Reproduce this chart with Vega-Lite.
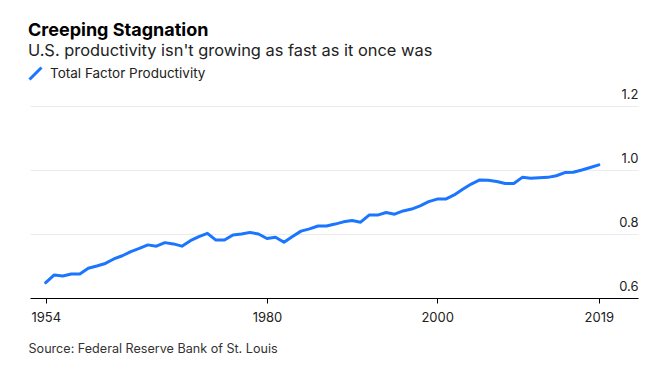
{
  "$schema": "https://vega.github.io/schema/vega-lite/v6.json",
  "width": 608,
  "height": 192,
  "autosize": "none",
  "padding": {"left": 30, "top": 106, "right": 24, "bottom": 69},
  "background": "white",
  "config": {"view": {"stroke": null}, "font": "Inter"},
  "title": {
    "text": "Creeping Stagnation",
    "subtitle": "U.S. productivity isn't growing as fast as it once was",
    "anchor": "start",
    "frame": "group",
    "dx": -2,
    "font": "Inter",
    "fontSize": 18,
    "fontWeight": "bold",
    "color": "#000000",
    "subtitleFont": "Inter",
    "subtitleFontSize": 16.4,
    "subtitleColor": "#222222",
    "subtitlePadding": 3,
    "offset": 7
  },
  "data": {
    "values": [
      {"year": 1954, "value": 0.648},
      {"year": 1955, "value": 0.672},
      {"year": 1956, "value": 0.669},
      {"year": 1957, "value": 0.675},
      {"year": 1958, "value": 0.675},
      {"year": 1959, "value": 0.693},
      {"year": 1960, "value": 0.700},
      {"year": 1961, "value": 0.708},
      {"year": 1962, "value": 0.722},
      {"year": 1963, "value": 0.732},
      {"year": 1964, "value": 0.745},
      {"year": 1965, "value": 0.755},
      {"year": 1966, "value": 0.766},
      {"year": 1967, "value": 0.762},
      {"year": 1968, "value": 0.773},
      {"year": 1969, "value": 0.769},
      {"year": 1970, "value": 0.762},
      {"year": 1971, "value": 0.779},
      {"year": 1972, "value": 0.792},
      {"year": 1973, "value": 0.802},
      {"year": 1974, "value": 0.781},
      {"year": 1975, "value": 0.781},
      {"year": 1976, "value": 0.797},
      {"year": 1977, "value": 0.800},
      {"year": 1978, "value": 0.805},
      {"year": 1979, "value": 0.800},
      {"year": 1980, "value": 0.786},
      {"year": 1981, "value": 0.790},
      {"year": 1982, "value": 0.774},
      {"year": 1983, "value": 0.792},
      {"year": 1984, "value": 0.809},
      {"year": 1985, "value": 0.816},
      {"year": 1986, "value": 0.825},
      {"year": 1987, "value": 0.825},
      {"year": 1988, "value": 0.831},
      {"year": 1989, "value": 0.838},
      {"year": 1990, "value": 0.842},
      {"year": 1991, "value": 0.837},
      {"year": 1992, "value": 0.859},
      {"year": 1993, "value": 0.859},
      {"year": 1994, "value": 0.867},
      {"year": 1995, "value": 0.862},
      {"year": 1996, "value": 0.872},
      {"year": 1997, "value": 0.878},
      {"year": 1998, "value": 0.888},
      {"year": 1999, "value": 0.901},
      {"year": 2000, "value": 0.909},
      {"year": 2001, "value": 0.909},
      {"year": 2002, "value": 0.922},
      {"year": 2003, "value": 0.940},
      {"year": 2004, "value": 0.956},
      {"year": 2005, "value": 0.969},
      {"year": 2006, "value": 0.968},
      {"year": 2007, "value": 0.964},
      {"year": 2008, "value": 0.958},
      {"year": 2009, "value": 0.958},
      {"year": 2010, "value": 0.977},
      {"year": 2011, "value": 0.974},
      {"year": 2012, "value": 0.976},
      {"year": 2013, "value": 0.977},
      {"year": 2014, "value": 0.982},
      {"year": 2015, "value": 0.992},
      {"year": 2016, "value": 0.993},
      {"year": 2017, "value": 1.000},
      {"year": 2018, "value": 1.008},
      {"year": 2019, "value": 1.016}
    ]
  },
  "mark": {"type": "line", "strokeWidth": 3, "strokeJoin": "round", "strokeCap": "round"},
  "encoding": {
    "x": {
      "field": "year",
      "type": "quantitative",
      "scale": {"domain": [1952.15, 2023.6], "nice": false, "zero": false},
      "axis": {
        "values": [1954, 1980, 2000, 2019],
        "format": "d",
        "grid": false,
        "domainColor": "#000000",
        "domainWidth": 1,
        "tickColor": "#000000",
        "tickSize": 5,
        "labelFontSize": 13,
        "labelColor": "#222222",
        "labelPadding": 8,
        "labelFont": "Inter",
        "title": "Source: Federal Reserve Bank of St. Louis",
        "titleAnchor": "start",
        "titleAlign": "left",
        "titleBaseline": "alphabetic",
        "titleX": -2,
        "titleY": 54,
        "titleFont": "Inter",
        "titleFontWeight": "normal",
        "titleFontSize": 12.6,
        "titleColor": "#333333"
      }
    },
    "y": {
      "field": "value",
      "type": "quantitative",
      "scale": {"domain": [0.6, 1.2], "nice": false, "zero": false},
      "axis": {
        "orient": "right",
        "values": [0.6, 0.8, 1.0, 1.2],
        "format": ".1f",
        "domain": false,
        "ticks": false,
        "grid": true,
        "gridColor": "#ececec",
        "gridWidth": 1,
        "labelAlign": "right",
        "labelBaseline": "alphabetic",
        "labelOffset": -8,
        "labelPadding": 0,
        "labelFontSize": 13,
        "labelColor": "#222222",
        "labelFont": "Inter",
        "title": null
      }
    },
    "color": {
      "datum": "Total Factor Productivity",
      "type": "nominal",
      "scale": {"range": ["#1a75ff"]},
      "legend": {
        "title": null,
        "orient": "none",
        "legendX": -2,
        "legendY": -40,
        "symbolType": "M-1,1L1,-1",
        "symbolSize": 144,
        "symbolStrokeWidth": 3,
        "labelFontSize": 13.5,
        "labelFont": "Inter",
        "labelColor": "#222222",
        "labelOffset": 7,
        "labelLimit": 400
      }
    }
  }
}
